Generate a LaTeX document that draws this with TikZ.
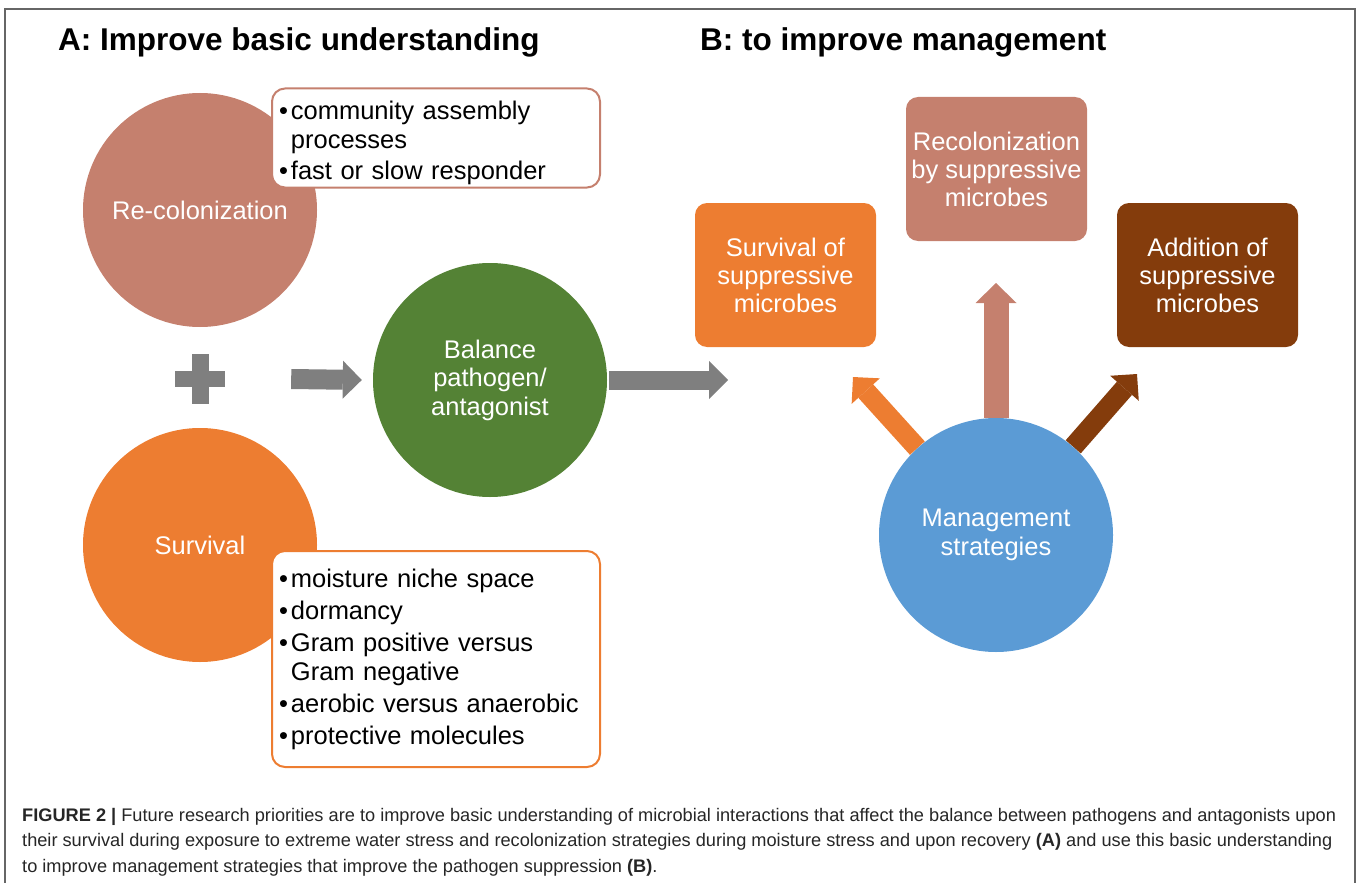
\documentclass[tikz,border=0pt]{standalone}
\usepackage{fontspec}
\setmainfont{Liberation Sans}
\usetikzlibrary{arrows.meta,backgrounds}

\definecolor{recolpink}{HTML}{C5806E}
\definecolor{survorange}{HTML}{ED7D31}
\definecolor{balgreen}{HTML}{548235}
\definecolor{mgmtblue}{HTML}{5B9BD5}
\definecolor{addbrown}{HTML}{843C0C}
\definecolor{arrowgray}{HTML}{7F7F7F}

\newcommand{\itm}{\textbullet\hspace{3pt}}
\newcommand{\cnt}{\hphantom{\textbullet}\hspace{3pt}}

\begin{document}
\begin{tikzpicture}[x=1pt,y=-1pt,
  bigcircle/.style={circle, minimum size=234pt, inner sep=0pt, text=white, align=center,
    font=\fontsize{25.5}{28.5}\selectfont},
  notebox/.style={draw, line width=2pt, rounded corners=13pt, fill=white, minimum width=328pt,
    inner xsep=7pt, text width=314pt, align=left, font=\fontsize{25.5}{29}\selectfont},
  stratbox/.style={rounded corners=12pt, minimum width=181pt, minimum height=144pt,
    inner xsep=2pt, text=white, align=center, font=\fontsize{25.5}{28}\selectfont},
  blockarrow/.style={line width=20pt, -{Triangle[length=19pt,width=38pt,line width=0pt 0]}},
]
\useasboundingbox (0,0) rectangle (1358,883);
\draw[line width=1.5pt, black!60] (5,883) -- (5,9) -- (1355,9) -- (1355,883);

% headings
\node[anchor=base west, inner sep=0pt, font=\fontsize{31.5}{36}\selectfont\bfseries] (headA) at (58,51) {A: Improve basic understanding};
\node[anchor=base west, inner sep=0pt, font=\fontsize{31.5}{36}\selectfont\bfseries] (headB) at (700,51) {B: to improve management};

% A: basic understanding
\node[bigcircle, fill=recolpink] (recol) at (200,210) {Re-colonization};
\node[bigcircle, fill=survorange] (surv) at (200,545) {Survival};
\node[bigcircle, fill=balgreen] (balance) at (490,380) {Balance\\pathogen/\\antagonist};
\node[minimum size=50pt, inner sep=0pt] (plus) at (200,379) {};
\fill[arrowgray] ([xshift=-8.5pt]plus.north) rectangle ([xshift=8.5pt]plus.south);
\fill[arrowgray] ([yshift=8pt]plus.west) rectangle ([yshift=-8pt]plus.east);

\node[notebox, draw=recolpink, minimum height=99pt, inner ysep=0pt] (recolbox) at (436,138)
  {\rule{0pt}{29pt}\itm community assembly\\\cnt processes\\[2pt]\itm fast or slow responder};
\node[notebox, draw=survorange, minimum height=216pt] (survbox) at (436,659)
  {\itm moisture niche space\\[3pt]\itm dormancy\\[3pt]\itm Gram positive versus\\\cnt Gram negative\\[3pt]\itm aerobic versus anaerobic\\[3pt]\itm protective molecules};

\coordinate (toB) at (728,380);
\draw[blockarrow, arrowgray] ([xshift=66pt]plus.east) -- ([xshift=-11pt]balance.west);
\draw[blockarrow, arrowgray, line width=19pt] ([xshift=2pt]balance.east) -- (toB);

% B: management
\node[stratbox, fill=survorange] (survstrat) at (785.5,275) {Survival of\\suppressive\\microbes};
\node[stratbox, fill=recolpink] (recolstrat) at (996.5,169) {Recolonization\\by suppressive\\microbes};
\node[stratbox, fill=addbrown] (addstrat) at (1207.5,275) {Addition of\\suppressive\\microbes};
\node[bigcircle, fill=mgmtblue] (mgmt) at (996,535) {Management\\strategies};

\coordinate (tipL) at (853,377);
\coordinate (tipM) at (996,283);
\coordinate (tipR) at (1137,374);
\begin{scope}[on background layer]
\draw[blockarrow, survorange] (mgmt) -- (tipL);
\draw[recolpink, line width=25pt, -{Triangle[length=20pt,width=41pt,line width=0pt 0]}] (mgmt) -- (tipM);
\draw[blockarrow, addbrown] (mgmt) -- (tipR);
\end{scope}

% caption
\node[anchor=north west, inner sep=0pt, align=left, text=black!85, font=\fontsize{18.2}{25.5}\selectfont] (caption) at (22,808)
  {\textbf{FIGURE 2 |} Future research priorities are to improve basic understanding of microbial interactions that affect the balance between pathogens and antagonists upon\\
   their survival during exposure to extreme water stress and recolonization strategies during moisture stress and upon recovery \textbf{(A)} and use this basic understanding\\
   to improve management strategies that improve the pathogen suppression \textbf{(B)}.};
\end{tikzpicture}
\end{document}
